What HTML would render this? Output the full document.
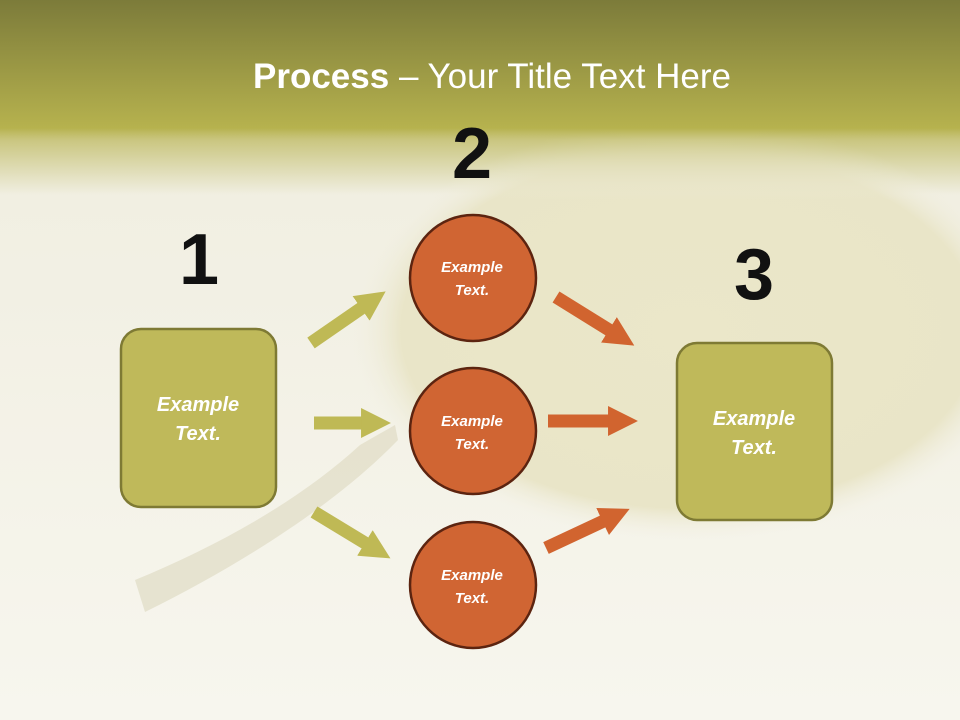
<!DOCTYPE html>
<html><head><meta charset="utf-8"><style>
html,body{margin:0;padding:0;width:960px;height:720px;overflow:hidden}
</style></head><body>
<svg width="960" height="720" xmlns="http://www.w3.org/2000/svg" font-family="Liberation Sans, sans-serif">
<defs>
<linearGradient id="bg" gradientUnits="userSpaceOnUse" x1="0" y1="0" x2="0" y2="720">
<stop offset="0" stop-color="#7c7b3a"/>
<stop offset="0.17" stop-color="#b6b24e"/>
<stop offset="0.185" stop-color="#c9c57e"/>
<stop offset="0.27" stop-color="#f1efe2"/>
<stop offset="1" stop-color="#f7f6ee"/>
</linearGradient>
<linearGradient id="hdr" gradientUnits="userSpaceOnUse" x1="0" y1="0" x2="0" y2="200">
<stop offset="0" stop-color="#7c7b3a"/>
<stop offset="0.64" stop-color="#b6b24e"/>
<stop offset="0.7" stop-color="#c9c57e" stop-opacity="0.8"/>
<stop offset="1" stop-color="#f1efe2" stop-opacity="0"/>
</linearGradient>
<radialGradient id="pear" cx="0.5" cy="0.5" r="0.5">
<stop offset="0" stop-color="#ebe7c9"/>
<stop offset="0.85" stop-color="#e9e5c8"/>
<stop offset="1" stop-color="#f2f0e3" stop-opacity="0"/>
</radialGradient>
<marker id="hg" viewBox="0 0 10 10" refX="2" refY="5" markerWidth="2.3" markerHeight="2.3" orient="auto"><path d="M0,0L10,5L0,10z" fill="#bfb955"/></marker>
<marker id="ho" viewBox="0 0 10 10" refX="2" refY="5" markerWidth="2.3" markerHeight="2.3" orient="auto"><path d="M0,0L10,5L0,10z" fill="#d1642f"/></marker>
</defs>
<rect width="960" height="720" fill="url(#bg)"/>
<ellipse cx="690" cy="330" rx="340" ry="210" fill="url(#pear)"/>
<rect x="0" y="0" width="960" height="200" fill="url(#hdr)"/>
<path d="M135,580 C220,545 300,500 360,445 L395,425 L398,440 C340,500 250,560 145,612 Z" fill="#e0dcc4" opacity="0.7"/>
<text x="492" y="88" text-anchor="middle" fill="#fff" font-size="35"><tspan font-weight="bold">Process</tspan> – Your Title Text Here</text>
<g font-weight="bold" font-size="72" text-anchor="middle" fill="#111">
<text x="199" y="284">1</text><text x="472" y="178">2</text><text x="754" y="299">3</text>
</g>
<g stroke-width="13" fill="none">
<line x1="311" y1="343" x2="366" y2="305" stroke="#bfb955" marker-end="url(#hg)"/>
<line x1="314" y1="423" x2="367" y2="423" stroke="#bfb955" marker-end="url(#hg)"/>
<line x1="314" y1="512" x2="370" y2="546" stroke="#bfb955" marker-end="url(#hg)"/>
<line x1="556" y1="297" x2="614" y2="333" stroke="#d1642f" marker-end="url(#ho)"/>
<line x1="548" y1="421" x2="614" y2="421" stroke="#d1642f" marker-end="url(#ho)"/>
<line x1="546" y1="548" x2="608" y2="519" stroke="#d1642f" marker-end="url(#ho)"/>
</g>
<g fill="#bfb95a" stroke="#7e7a34" stroke-width="2.5">
<rect x="121" y="329" width="155" height="178" rx="20"/>
<rect x="677" y="343" width="155" height="177" rx="20"/>
</g>
<g fill="#d06533" stroke="#5c2410" stroke-width="2.5">
<circle cx="473" cy="278" r="63"/><circle cx="473" cy="431" r="63"/><circle cx="473" cy="585" r="63"/>
</g>
<g fill="#fff" font-weight="bold" font-style="italic" text-anchor="middle">
<text x="198" y="411" font-size="20">Example</text><text x="198" y="440" font-size="20">Text.</text>
<text x="754" y="425" font-size="20">Example</text><text x="754" y="454" font-size="20">Text.</text>
<text x="472" y="272" font-size="15">Example</text><text x="472" y="295" font-size="15">Text.</text>
<text x="472" y="426" font-size="15">Example</text><text x="472" y="449" font-size="15">Text.</text>
<text x="472" y="580" font-size="15">Example</text><text x="472" y="603" font-size="15">Text.</text>
</g>
</svg>
</body></html>
